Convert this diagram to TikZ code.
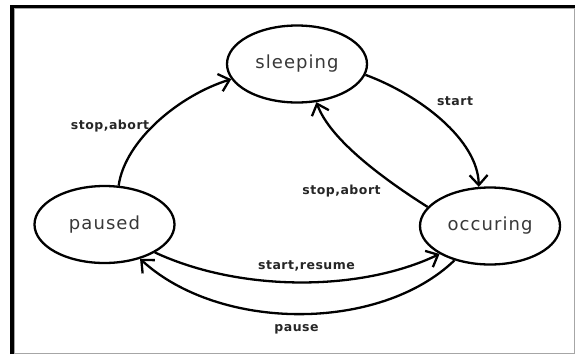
\documentclass[tikz,border=0pt]{standalone}
\usepackage{fontspec}
\setmainfont{DejaVu Sans}
\newfontfamily\nodefont[LetterSpace=6]{DejaVu Sans}
\newfontfamily\lblfont[LetterSpace=4]{DejaVu Sans Bold}
\usetikzlibrary{shapes.geometric,arrows.meta}
\tikzset{
  state/.style={ellipse, draw=black, line width=2.3pt, minimum width=140pt, minimum height=77pt,
    inner sep=0pt, font=\nodefont\fontsize{18}{20}\selectfont, text=black!78},
  trans/.style={draw=black, line width=2.3pt, -{Straight Barb[length=10pt,width=18pt,line width=2.3pt]}},
  lbl/.style={font=\lblfont\fontsize{12.5}{14}\selectfont, text=black!85, inner sep=0pt}
}
\begin{document}
\begin{tikzpicture}[x=1pt,y=-1pt]
\useasboundingbox (0,0) rectangle (575,354);
\fill[white] (0,0) rectangle (575,354);
% frame
\draw[black!35, line width=1pt] (14.5,354) -- (14.5,8.5) -- (575,8.5);
\draw[black!35, line width=1pt] (574.5,8.5) -- (574.5,353) -- (14.5,353);
\draw[black, line width=3.5pt] (12,354) -- (12,6.5) -- (575,6.5);
% states
\node[state] (sleeping) at (297,64) {sleeping};
\node[state] (paused) at (104.5,224.5) {paused};
\node[state] (occuring) at (490,226) {occuring};
% transitions
\draw[trans] (paused.70) .. controls (125,140) and (180,95) .. (sleeping.193);
\draw[trans] (sleeping.-9) .. controls (420,95) and (478,140) .. (occuring.106);
\draw[trans] (occuring.163) .. controls (385,180) and (330,140) .. (sleeping.-63);
\draw[trans] (paused.-29) .. controls (240,292) and (360,292) .. (occuring.209);
\draw[trans] (occuring.224) .. controls (380,332) and (220,332) .. (paused.-44);
% labels
\node[lbl] (l1) at (110,126) {stop,abort};
\node[lbl] (l2) at (455,101) {start};
\node[lbl] (l3) at (341.5,191) {stop,abort};
\node[lbl] (l4) at (306.5,266) {start,resume};
\node[lbl] (l5) at (296.5,329) {pause};
\end{tikzpicture}
\end{document}
